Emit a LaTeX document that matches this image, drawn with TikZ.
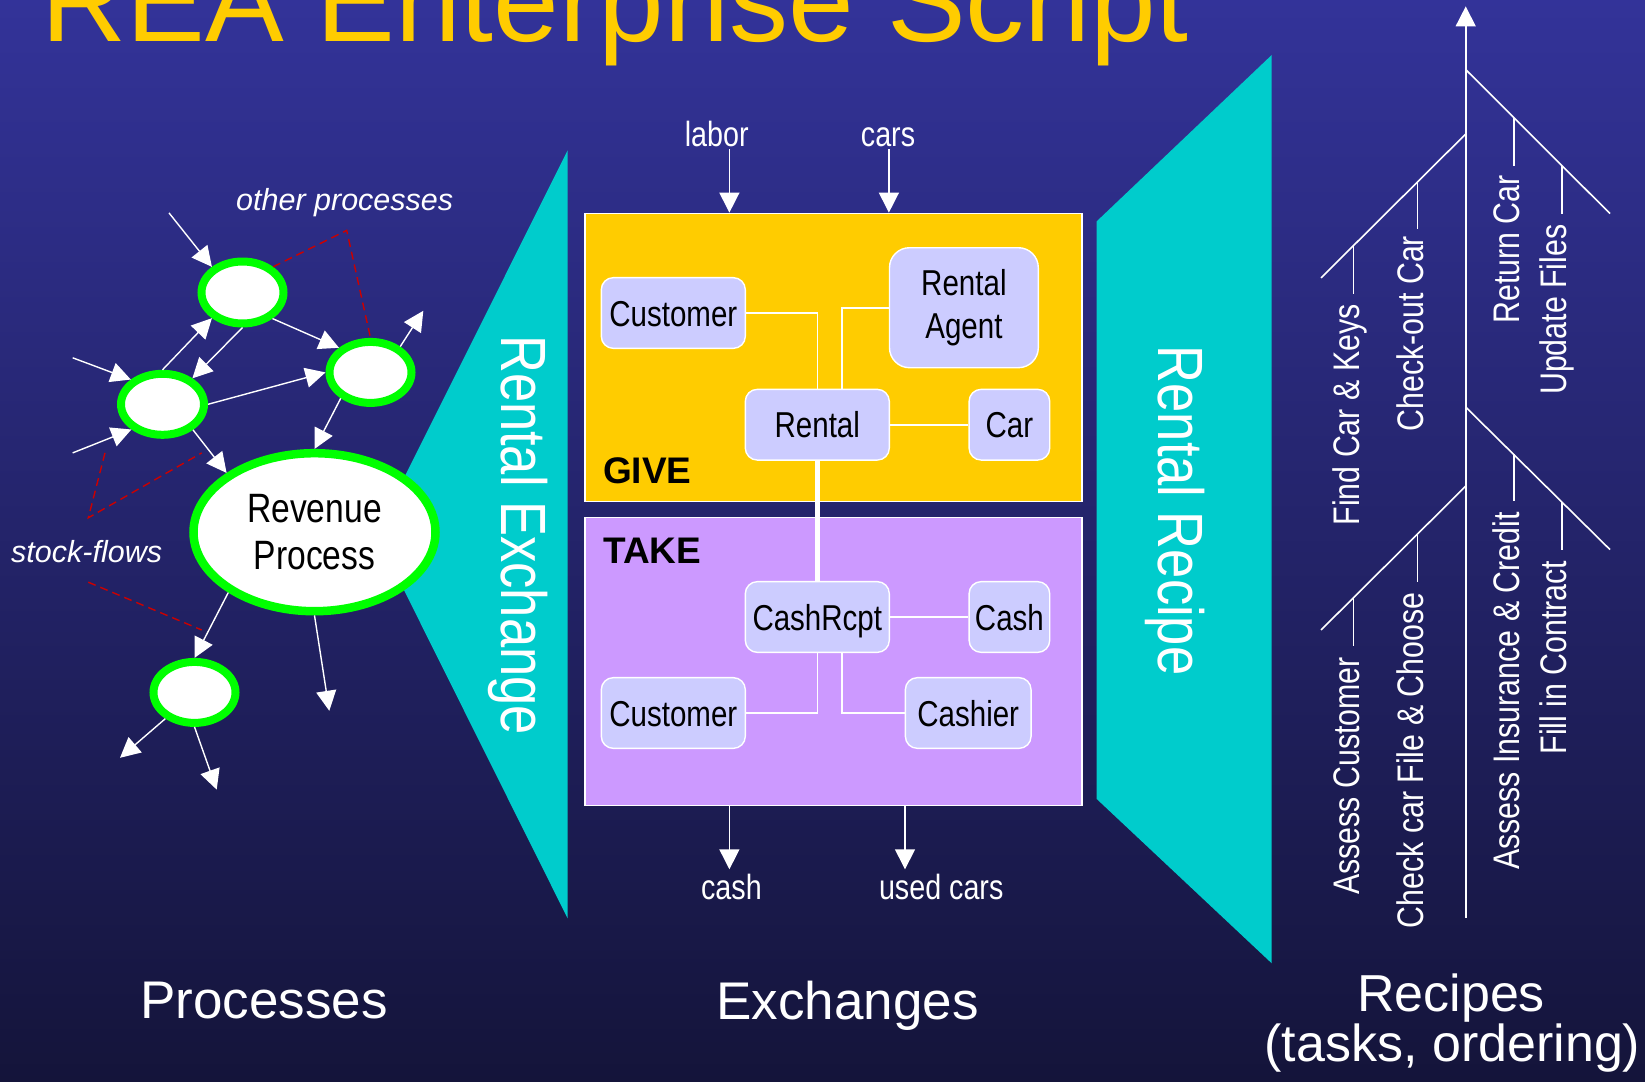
\documentclass[tikz,border=0pt]{standalone}
\usepackage{fontspec}
\setmainfont{Liberation Sans}
\newfontfamily\nar[FakeStretch=0.82]{Liberation Sans}
\usetikzlibrary{shapes.geometric,arrows.meta,calc}

\definecolor{bgtop}{RGB}{51,51,153}
\definecolor{bgmid}{RGB}{38,38,115}
\definecolor{bgbot}{RGB}{20,20,58}
\definecolor{cyanfill}{RGB}{0,204,204}
\definecolor{givefill}{RGB}{255,204,0}
\definecolor{takefill}{RGB}{204,153,255}
\definecolor{entfill}{RGB}{204,204,255}
\definecolor{procgreen}{RGB}{0,255,0}
\definecolor{dashred}{RGB}{204,0,0}
\definecolor{titleyellow}{RGB}{255,204,0}

\begin{document}
\begin{tikzpicture}[x=1pt,y=-1pt,
  ent/.style={draw=white, line width=1.4pt, fill=entfill, rounded corners=12pt, minimum height=70.7pt, inner sep=0pt, text=black, font=\nar\fontsize{36}{43}\selectfont},
  entone/.style={ent, text height=26pt, text depth=0pt},
  proc/.style={ellipse, draw=procgreen, line width=8pt, fill=white, inner sep=0pt},
  arr/.style={draw=white, line width=1.4pt, -{Triangle[length=20pt,width=20pt]}},
  conn/.style={draw=white, line width=1.6pt},
  reddash/.style={draw=dashred, line width=1.4pt, dash pattern=on 8pt off 5pt},
  lbl/.style={text=white, inner sep=0pt, anchor=base, font=\nar\fontsize{35}{40}\selectfont},
  task/.style={text=white, inner sep=0pt, rotate=90, anchor=base east, font=\nar\fontsize{37}{40}\selectfont},
  caption/.style={text=white, inner sep=0pt, anchor=base, font=\fontsize{53}{60}\selectfont},
  bigrot/.style={text=white, inner sep=0pt, rotate=-90, anchor=base, font=\nar\fontsize{64}{70}\selectfont},
  box/.style={draw=white, line width=1.4pt, inner sep=0pt, minimum width=497pt, minimum height=288.4pt},
  italbl/.style={text=white, inner sep=0pt, anchor=base west, font=\itshape\fontsize{30.5}{36}\selectfont},
  boxlbl/.style={anchor=base west, inner sep=0pt, font=\bfseries\fontsize{37}{40}\selectfont}
]
\useasboundingbox (0,0) rectangle (1645,1081);
\clip (0,0) rectangle (1645,1081);
\shade[top color=bgtop, middle color=bgmid, bottom color=bgbot] (0,0) rectangle (1645,1081);

% cyan shapes
\fill[cyanfill] (567.6,150.4) -- (376,534) -- (567.6,918.3) -- cycle;
\fill[cyanfill] (1271.7,55) -- (1096.5,221.5) -- (1096.5,798.8) -- (1271.7,963.3) -- cycle;

% title
\node[anchor=base, inner sep=0pt, text=titleyellow, font=\fontsize{118}{130}\selectfont] (title) at (615,41.7) {REA Enterprise Script};

% processes
\node[proc, minimum width=242pt, minimum height=158pt, line width=8.5pt, align=center, font=\nar\fontsize{41}{47}\selectfont] (R) at (314.5,532.2) {Revenue\\Process};
\node[proc, minimum width=82pt, minimum height=62pt] (A) at (242.5,292.5) {};
\node[proc, minimum width=83pt, minimum height=61pt] (B) at (162.5,404.3) {};
\node[proc, minimum width=82pt, minimum height=61pt] (C) at (370.5,372.4) {};
\node[proc, minimum width=82pt, minimum height=61pt] (D) at (194.5,692.4) {};

\coordinate (inA) at (169,212.9);
\coordinate (inB1) at (72.7,357.8);
\coordinate (inB2) at (72.7,452.9);
\coordinate (outC) at (423.3,310.8);
\coordinate (outR) at (329.3,710.8);
\coordinate (outD1) at (120,757.8);
\coordinate (outD2) at (216.7,789.6);
\draw[arr] (inA) -- (A.140);
\draw[arr] (B.north) -- (A.220);
\draw[arr] (A.south) -- (B.41);
\draw[arr] (A.-41) -- (C.142);
\draw[arr] (inB1) -- (B.142);
\draw[arr] (inB2) -- (B.219);
\draw[arr] (B.east) -- (C.west);
\draw[arr] (C.41) -- (outC);
\draw[arr] (C.221) -- (R.north);
\draw[arr] (B.320) -- (R.146);
\draw[arr] (R.215) -- (D.north);
\draw[arr] (R.south) -- (outR);
\draw[arr] (D.222) -- (outD1);
\draw[arr] (D.south) -- (outD2);

% red dashes
\coordinate (op) at (346.7,230.4);
\draw[reddash] (A.40) -- (op) -- (C.north);
\coordinate (sf1) at (105,452.9);
\coordinate (sf2) at (88.3,517.8);
\coordinate (sf3) at (201.7,452.9);
\coordinate (sf4) at (88.3,582.2);
\coordinate (sf5) at (201.7,630);
\draw[reddash] (sf1) -- (sf2) -- (sf3);
\draw[reddash] (sf4) -- (sf5);

\node[italbl] (otherproc) at (236,210.8) {other processes};
\node[italbl] (stockflows) at (11,562.7) {stock-flows};

% exchange boxes
\node[box, fill=givefill] (give) at (833.5,357.5) {};
\node[box, fill=takefill] (take) at (833.5,661.5) {};
\node[boxlbl] (givelbl) at (603,483.3) {GIVE};
\node[boxlbl] (takelbl) at (603,563.3) {TAKE};

\node[entone, minimum width=144pt] (cust1) at (673.3,313) {Customer};
\node[ent, minimum width=148.8pt, minimum height=120pt, rounded corners=20pt, align=center, yshift=-2pt] (agent) at (963.9,305.7) {Rental\\Agent};
\node[entone, minimum width=144pt] (rental) at (817.3,424.7) {Rental};
\node[entone, minimum width=80.6pt] (car) at (1009.4,424.7) {Car};
\node[entone, minimum width=144pt] (cashrcpt) at (817.3,617) {CashRcpt};
\node[entone, minimum width=80.6pt] (cash) at (1009.4,617) {Cash};
\node[entone, minimum width=144pt] (cust2) at (673.3,713) {Customer};
\node[entone, minimum width=125.7pt] (cashier) at (968.2,713) {Cashier};

\draw[conn] (cust1.east) -| (rental.north);
\draw[conn] (agent.west) -| ($(rental.north)+(24.4,0)$);
\draw[conn] (rental.east) -- (car.west);
\draw[draw=white, line width=5pt] (rental.south) -- (cashrcpt.north);
\draw[conn] (cashrcpt.east) -- (cash.west);
\draw[conn] (cashrcpt.south) |- (cust2.east);
\draw[conn] ($(cashrcpt.south)+(24.4,0)$) |- (cashier.west);

% flows in / out
\node[lbl] (labor) at (716.7,146.7) {labor};
\node[lbl] (cars) at (888,146.7) {cars};
\node[lbl] (cashlbl) at (731.4,899) {cash};
\node[lbl] (usedcars) at (941.2,899) {used cars};
\coordinate (laborx) at (729.4,149.3);
\coordinate (carsx) at (888.9,149.3);
\coordinate (cashx) at (729.4,869.3);
\coordinate (usedx) at (905,869.3);
\draw[arr] (laborx) -- (laborx |- give.north);
\draw[arr] (carsx) -- (carsx |- give.north);
\draw[arr] (take.south -| cashx) -- (cashx);
\draw[arr] (take.south -| usedx) -- (usedx);

% rotated labels
\node[bigrot] (rx) at (501,535) {Rental Exchange};
\node[bigrot] (rr) at (1158.3,510.6) {Rental Recipe};

% recipe fishbone
\coordinate (spinebot) at (1465.7,917.5);
\coordinate (spinetop) at (1465.7,6.4);
\draw[arr, line width=1.6pt] (spinebot) -- (spinetop);
\coordinate (urs) at (1465.7,69.6);   \coordinate (ure) at (1610,213.6);
\coordinate (uls) at (1465.7,134);    \coordinate (ule) at (1321,277.9);
\coordinate (lrs) at (1465.7,407.1);  \coordinate (lre) at (1610,549.6);
\coordinate (lls) at (1465.7,486.1);  \coordinate (lle) at (1321,630);
\draw[conn] (urs) -- (ure);
\draw[conn] (uls) -- (ule);
\draw[conn] (lrs) -- (lre);
\draw[conn] (lls) -- (lle);

\node[task] (returncar) at (1519,175) {Return Car};
\node[task] (updatefiles) at (1566.7,224.3) {Update Files};
\node[task] (checkout) at (1423,235.7) {Check-out Car};
\node[task] (findcar) at (1359,304.3) {Find Car \& Keys};
\node[task] (assessins) at (1519,512.1) {Assess Insurance \& Credit};
\node[task] (fillin) at (1566.7,560.4) {Fill in Contract};
\node[task] (checkcar) at (1423,592.5) {Check car File \& Choose};
\node[task] (assesscust) at (1359,656.8) {Assess Customer};

\coordinate (t1a) at (1514,117.9);   \coordinate (t1b) at (1514,166);
\coordinate (t2a) at (1561.7,166);   \coordinate (t2b) at (1561.7,213.6);
\coordinate (t3a) at (1417.3,182.1); \coordinate (t3b) at (1417.3,228.6);
\coordinate (t4a) at (1353.3,245.7); \coordinate (t4b) at (1353.3,293.6);
\coordinate (t5a) at (1514,454.3);   \coordinate (t5b) at (1514,501.4);
\coordinate (t6a) at (1561.7,502.1); \coordinate (t6b) at (1561.7,549.6);
\coordinate (t7a) at (1417.3,534.3); \coordinate (t7b) at (1417.3,581.8);
\coordinate (t8a) at (1353.3,597.9); \coordinate (t8b) at (1353.3,646);
\foreach \i in {1,...,8} {\draw[conn] (t\i a) -- (t\i b);}

% captions
\node[caption] (cproc) at (264,1018.3) {Processes};
\node[caption] (cexch) at (847.7,1019) {Exchanges};
\node[caption, font=\fontsize{52}{60}\selectfont] (crec) at (1451,1011) {Recipes};
\node[caption, font=\fontsize{52}{60}\selectfont] (ctask) at (1452.5,1061) {(tasks, ordering)};
\end{tikzpicture}
\end{document}
